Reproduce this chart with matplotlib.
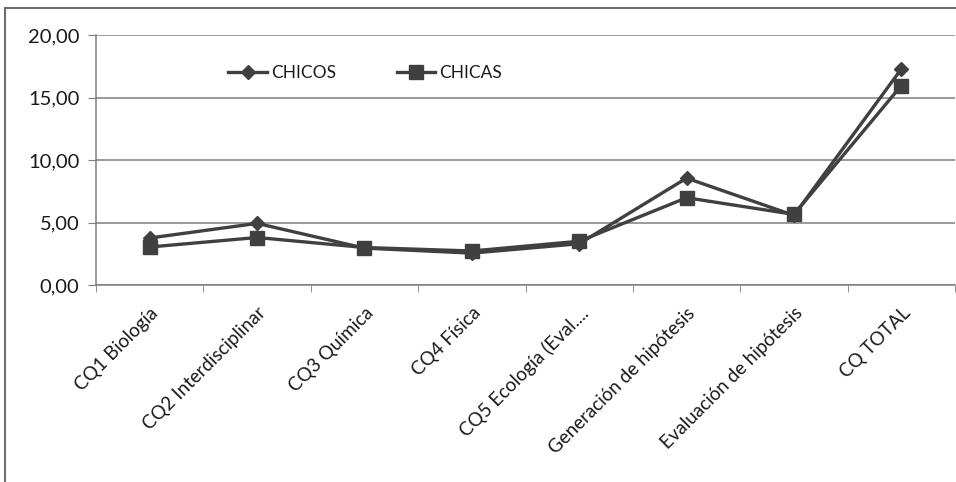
import matplotlib
matplotlib.use("Agg")
import matplotlib.pyplot as plt
import numpy as np
from matplotlib.patches import Rectangle
from matplotlib.ticker import FuncFormatter

categorias = ["CQ1 Biología", "CQ2 Interdisciplinar", "CQ3 Química", "CQ4 Física",
              "CQ5 Ecología (Eval....", "Generación de hipótesis",
              "Evaluación de hipótesis", "CQ TOTAL"]
chicos = [3.76, 4.93, 2.95, 2.55, 3.30, 8.55, 5.57, 17.28]
chicas = [3.04, 3.80, 3.00, 2.72, 3.50, 6.98, 5.65, 15.95]

plt.rcParams["font.family"] = ["Lato", "DejaVu Sans"]

fig = plt.figure(figsize=(9.56, 4.82), dpi=100)
# marco exterior del grafico
fig.patches.append(Rectangle((5 / 956, -0.1), 1.2, 1 - 8 / 482 + 0.1,
                             transform=fig.transFigure, fill=False,
                             edgecolor="#6e6e6e", linewidth=1.5))

ax = fig.add_axes([96 / 956, 1 - 285 / 482, 859 / 956, 250 / 482])
x = np.arange(len(categorias)) + 0.5
col = "#404040"
ax.plot(x, chicos, color=col, lw=2.4, marker="D", ms=7.5, label="CHICOS", zorder=3)
ax.plot(x, chicas, color=col, lw=2.4, marker="s", ms=9.5, label="CHICAS", zorder=3)

ax.set_xlim(0, len(categorias))
ax.set_ylim(0, 20)
ax.set_yticks(np.arange(0, 21, 5))
ax.yaxis.set_major_formatter(FuncFormatter(lambda v, p: f"{v:.2f}".replace(".", ",")))
ax.yaxis.grid(True, color="#7f7f7f", lw=1.1)
ax.set_axisbelow(True)

ax.set_xticks(x)
ax.set_xticklabels(categorias, rotation=45, ha="right", rotation_mode="anchor",
                   fontsize=13.5, color="#1a1a1a")
ax.set_xticks(np.arange(len(categorias) + 1), minor=True)
ax.tick_params(axis="x", which="major", length=0, pad=14)
ax.tick_params(axis="x", which="minor", length=5, color="#7f7f7f", direction="out")
ax.tick_params(axis="y", length=6, color="#7f7f7f", labelsize=14.5,
               labelcolor="#1a1a1a", pad=6)

for s in ["top", "right"]:
    ax.spines[s].set_visible(False)
for s in ["left", "bottom"]:
    ax.spines[s].set_color("#7f7f7f")
    ax.spines[s].set_linewidth(1.1)

ax.legend(loc="center left", bbox_to_anchor=(0.136, 0.848), ncol=2, frameon=False,
          fontsize=12.5, handlelength=2.2, columnspacing=3.5, handletextpad=0.25,
          labelcolor="#1a1a1a")

fig.savefig("out.png", dpi=100)
